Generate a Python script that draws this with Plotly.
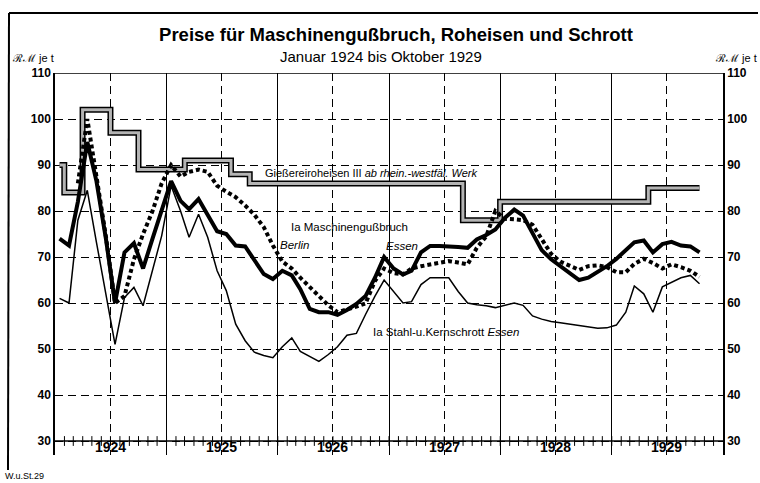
import pandas as pd
import plotly.graph_objects as go

# monthly values, January 1924 to October 1929 (RM je t)
months = pd.date_range("1924-01-01", "1929-10-01", freq="MS")

roheisen = [
    90, 84, 84, 102, 102, 102, 97, 97, 97, 89, 89, 89,  # 1924
    89, 89, 91, 91, 91, 91, 91, 88, 88, 86, 86, 86,  # 1925
    86, 86, 86, 86, 86, 86, 86, 86, 86, 86, 86, 86,  # 1926
    86, 86, 86, 86, 86, 86, 86, 86, 78, 78, 78, 78,  # 1927
    82, 82, 82, 82, 82, 82, 82, 82, 82, 82, 82, 82,  # 1928
    82, 82, 82, 82, 85, 85, 85, 85, 85, 85,  # 1929
]

guss_essen = [
    74, 72.5, 82, 95, 86.5, 74, 60, 71, 73, 67.5, 74, 80,
    86.5, 82.2, 80.4, 82.6, 79, 75.6, 75, 72.5, 72.3, 69.2, 66.3, 65.2,
    67, 66, 63, 58.7, 58, 58, 57.4, 58.5, 59.8, 61.5, 65.5, 70,
    67.5, 66.2, 67, 71, 72.4, 72.4, 72.4, 72.2, 72, 73.8, 74.8, 76,
    78.5, 80.3, 79, 75, 71.5, 69.5, 68, 66.5, 65, 65.5, 66.7, 68,
    69.6, 71.5, 73.2, 73.6, 71, 72.8, 73.3, 72.5, 72.3, 71,
]

guss_berlin = [
    None, None, 86, 100, 87.5, 74.5, 60, 61.5, 69.5, 75, 80, 86,
    90, 87.5, 88.5, 89, 88.5, 85.5, 84.2, 83, 81.2, 79.2, 76.5, 72.5,
    69, 67.5, 65.5, 63.5, 61.5, 59.5, 58, 58.5, 59.2, 59.9, 64.8, 67.5,
    66.5, 66.2, 67.5, 68, 68.4, 68.8, 69.1, 68.8, 68.4, 72, 74.5, 80,
    78.3, 78.2, 78, 77, 74, 70.7, 69, 68, 67.2, 68, 68.2, 67.8,
    66.7, 66.7, 68.5, 69.6, 68.7, 67.5, 68.4, 67.8, 67, 65.7,
]

schrott_essen = [
    61, 60, 78, 84.5, 73.2, 62, 51, 61.2, 63.4, 59.4, 67, 74.6,
    85.5, 80, 74.3, 79.3, 74.3, 67, 62.7, 55.4, 51.8, 49.3, 48.6, 48.1,
    50.5, 52.4, 49.5, 48.4, 47.3, 48.8, 50.5, 53, 53.4, 57.5, 61.5, 65,
    62.5, 60, 60.3, 64, 65.5, 65.5, 65.5, 62.5, 60, 59.6, 59.4, 59,
    59.5, 60, 59.5, 57.2, 56.5, 56, 55.7, 55.4, 55.1, 54.8, 54.5, 54.6,
    55.2, 58, 63.7, 62, 58, 63.5, 64.5, 65.5, 66, 64.2,
]

years = [1924, 1925, 1926, 1927, 1928, 1929]
y_ticks = [30, 40, 50, 60, 70, 80, 90, 100, 110]

W, H = 760, 483
L, R, T, B = 55, 723, 73, 455
Y_LO, Y_HI = 26.96, 110
FONT = "Liberation Sans"


def px(x):
    return (x - L) / (R - L)


def py(y):
    return (B - y) / (B - T)


x_mid = months + pd.Timedelta(days=15)
year_starts = pd.to_datetime([f"{y}-01-01" for y in years + [1930]])
half_years = pd.to_datetime([f"{y}-07-01" for y in years])
tick_months = pd.date_range("1924-02-01", "1929-12-01", freq="MS")
year_centers = pd.to_datetime([f"{y}-07-01" for y in years])

fig = go.Figure()

# Gießereiroheisen: grey band with black edges
fig.add_trace(go.Scatter(x=x_mid, y=roheisen, mode="lines",
                         line=dict(color="black", width=6, shape="hvh"), hoverinfo="skip"))
fig.add_trace(go.Scatter(x=x_mid, y=roheisen, mode="lines",
                         line=dict(color="#b4b4b4", width=3, shape="hvh"), name="Gießereiroheisen III"))
fig.add_trace(go.Scatter(x=x_mid, y=schrott_essen, mode="lines",
                         line=dict(color="black", width=1.5), name="Ia Stahl- u. Kernschrott Essen"))
fig.add_trace(go.Scatter(x=x_mid, y=guss_berlin, mode="lines",
                         line=dict(color="black", width=4, dash="4px,3px"), name="Ia Maschinengußbruch Berlin"))
fig.add_trace(go.Scatter(x=x_mid, y=guss_essen, mode="lines",
                         line=dict(color="black", width=4), name="Ia Maschinengußbruch Essen"))
# month ticks on the 30 line
fig.add_trace(go.Scatter(x=tick_months, y=[30] * len(tick_months), mode="markers",
                         marker=dict(symbol="line-ns", size=7, line=dict(color="black", width=1)),
                         hoverinfo="skip"))
# invisible trace to carry the right-hand axis
fig.add_trace(go.Scatter(x=[months[0]], y=[30], yaxis="y2", mode="markers",
                         marker=dict(opacity=0), hoverinfo="skip"))

grid_dash = "8px,5px"
fig.update_layout(
    width=W, height=H,
    margin=dict(l=L, r=W - R, t=T, b=H - B),
    paper_bgcolor="white", plot_bgcolor="white",
    showlegend=False,
    font=dict(family=FONT, color="black"),
    title=dict(text="Preise für Maschinengußbruch, Roheisen und Schrott",
               x=396 / W, xanchor="center", y=1 - 35 / H, yanchor="middle",
               font=dict(family=FONT, size=18.5, color="black", weight="bold")),
    xaxis=dict(
        type="date", range=[year_starts[0], year_starts[-1]], automargin=False,
        tickvals=year_starts, showticklabels=False, ticks="",
        showgrid=True, gridcolor="black", gridwidth=1,
        minor=dict(tickvals=half_years, showgrid=True, gridcolor="black",
                   gridwidth=1, griddash=grid_dash),
        showline=False, zeroline=False,
    ),
    yaxis=dict(
        range=[Y_LO, Y_HI], tickvals=y_ticks, ticks="", automargin=False,
        showgrid=True, gridcolor="black", gridwidth=1, griddash=grid_dash,
        showline=True, linecolor="black", linewidth=1.5,
        zeroline=False, tickfont=dict(size=12, family=FONT, weight="bold"),
    ),
    yaxis2=dict(
        range=[Y_LO, Y_HI], tickvals=y_ticks, ticks="", overlaying="y", side="right",
        automargin=False,
        showgrid=False, showline=True, linecolor="black", linewidth=1.5,
        zeroline=False, tickfont=dict(size=12, family=FONT, weight="bold"),
    ),
)

shapes = [
    dict(type="line", xref="paper", yref="y", x0=0, x1=1, y0=30, y1=30,
         line=dict(color="black", width=1.5)),
    dict(type="line", xref="paper", yref="y", x0=0, x1=1, y0=110, y1=110,
         line=dict(color="black", width=1.5)),
    # outer frame of the page
    dict(type="line", xref="paper", yref="paper", x0=px(9), x1=px(758), y0=py(13), y1=py(13),
         line=dict(color="black", width=2)),
    dict(type="line", xref="paper", yref="paper", x0=px(9), x1=px(8), y0=py(13), y1=py(470),
         line=dict(color="black", width=2)),
]
fig.update_layout(shapes=shapes)


def note(text, x, y, size=12, xanchor="center", yanchor="middle", italic=False):
    fig.add_annotation(text=text, xref="paper", yref="paper", x=px(x), y=py(y),
                       xanchor=xanchor, yanchor=yanchor, showarrow=False,
                       font=dict(size=size, family=FONT, color="black"))


note("Januar 1924 bis Oktober 1929", 381, 57, size=15)
note("ℛℳ je t", 33, 58, size=11)
note("ℛℳ je t", 736, 58, size=11)
note("W.u.St.29", 3, 476, size=9, xanchor="left")
note("Gießereiroheisen III <i>ab rhein.-westfäl. Werk</i>", 371, 173, size=11)
note("Ia Maschinengußbruch", 349, 227, size=11.5)
note("<i>Berlin</i>", 294, 245, size=11.5)
note("<i>Essen</i>", 402, 246, size=11.5)
note("Ia Stahl-u.Kernschrott <i>Essen</i>", 446, 332, size=11.5)

for yr, xc in zip(years, year_centers):
    fig.add_annotation(text=str(yr), x=xc, y=28.6, xref="x", yref="y", showarrow=False,
                       font=dict(size=14, family=FONT, color="black", weight="bold"))

# the page gets no body margin, so the figure sits at the window's top-left corner
fig.write_html("out.html", config={"displayModeBar": False},
               post_script="document.body.style.margin='0';")
